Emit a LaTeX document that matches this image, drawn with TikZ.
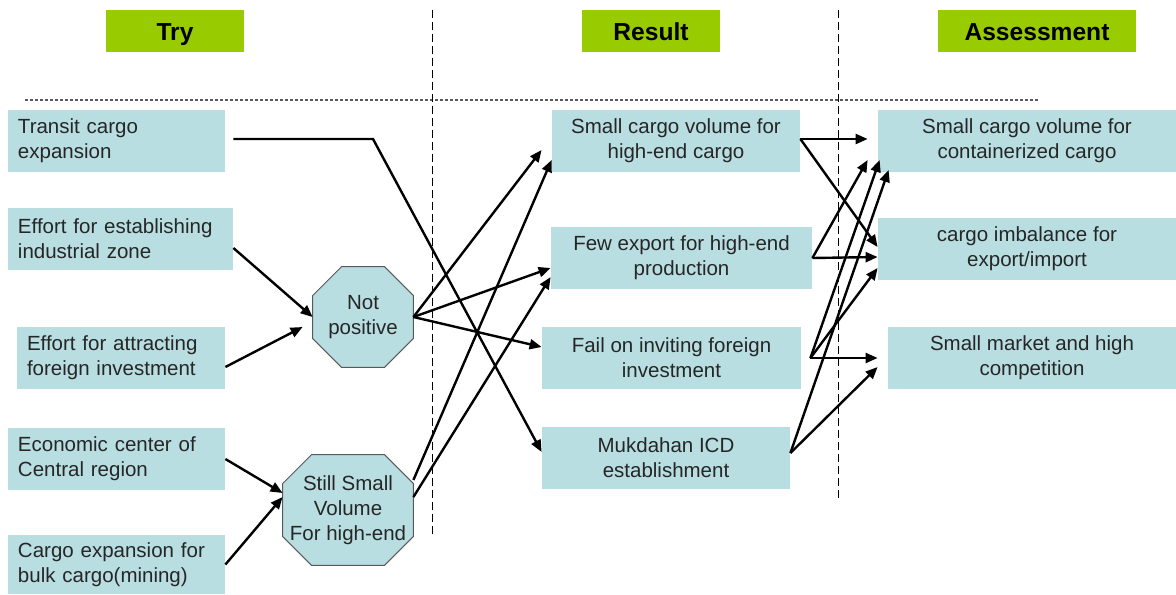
\documentclass[tikz,border=0pt]{standalone}
\usepackage{fontspec}
\setmainfont{Liberation Sans}
\usepackage{tikz}
\usepackage{xcolor}
\usetikzlibrary{arrows.meta, calc, backgrounds}

\definecolor{boxblue}{HTML}{B8DEE2}
\definecolor{headgreen}{HTML}{99CC00}

\begin{document}
\begin{tikzpicture}[
    x=0.5pt, y=-0.5pt,
    head/.style={rectangle, fill=headgreen, minimum height=21pt, text centered,
                 text height=10pt, text depth=1pt,
                 font=\fontsize{12.3}{14}\selectfont\bfseries},
    lbox/.style={rectangle, fill=boxblue, minimum height=31pt, inner xsep=5pt, align=left,
                 text=black!85, font=\fontsize{10.25}{12.5}\selectfont},
    cbox/.style={rectangle, fill=boxblue, minimum height=31pt, align=center,
                 text=black!85, font=\fontsize{10.25}{12.5}\selectfont},
    oct/.style={rectangle, inner sep=0pt, align=center,
                text=black!85, font=\fontsize{10.25}{12.5}\selectfont},
    octline/.style={fill=boxblue, draw=gray!70!black, line width=0.5pt},
    sep/.style={gray!70!black, dash pattern=on 1.5pt off 1pt, line width=0.6pt},
    vsep/.style={black, dash pattern=on 4pt off 2pt, line width=0.4pt},
    arr/.style={-{Triangle[length=6pt, width=5pt]}, line width=1.2pt}
]
\useasboundingbox (0,0) rectangle (1176,594);

%% ===== SEPARATORS =====
\draw[sep]  (25,100)  -- (1038,100);
\draw[vsep] (432,10)  -- (432,535);
\draw[vsep] (838,10)  -- (838,500);

%% ===== HEADERS =====
\node[head, minimum width=69pt] (htry) at (175,31)  {Try};
\node[head, minimum width=69pt] (hres) at (651,31)  {Result};
\node[head, minimum width=99pt] (hass) at (1037,31) {Assessment};

%% ===== TRY column =====
\node[lbox, text width=98.5pt]  (t1) at (116.5,141) {Transit cargo\\expansion};
\node[lbox, text width=102.5pt] (t2) at (120.5,239) {Effort for establishing\\industrial zone};
\node[lbox, text width=94pt]    (t3) at (121,358)   {Effort for attracting\\foreign investment};
\node[lbox, text width=98.5pt]  (t4) at (116.5,459) {Economic center of\\Central region};
\node[lbox, text width=98.5pt, minimum height=29.5pt] (t5) at (116.5,564.5) {Cargo expansion for\\bulk cargo(mining)};

%% Octagons (outline drawn behind the text)
\node[oct, minimum width=50pt, minimum height=50pt] (np) at (363,317) {Not\\positive};
\node[oct, minimum width=65pt, minimum height=55pt] (sv) at (348,510) {Still Small\\Volume\\For high-end};
\begin{scope}[on background layer]
  \foreach \o/\c in {np/14.5pt, sv/14.5pt}
    \draw[octline] ([xshift=\c]\o.north west) -- ([xshift=-\c]\o.north east)
      -- ([yshift=-\c]\o.north east) -- ([yshift=\c]\o.south east)
      -- ([xshift=-\c]\o.south east) -- ([xshift=\c]\o.south west)
      -- ([yshift=\c]\o.south west) -- ([yshift=-\c]\o.north west) -- cycle;
\end{scope}

%% ===== RESULT column =====
\node[cbox, minimum width=124pt]   (r1) at (676,141)   {Small cargo volume for\\high-end cargo};
\node[cbox, minimum width=130.5pt] (r2) at (681.5,258) {Few export for high-end\\production};
\node[cbox, minimum width=129.5pt] (r3) at (671.5,358) {Fail on inviting foreign\\investment};
\node[cbox, minimum width=124pt]   (r4) at (666,458)   {Mukdahan ICD\\establishment};

%% ===== ASSESSMENT column =====
\node[cbox, minimum width=149pt] (a1) at (1027,141) {Small cargo volume for\\containerized cargo};
\node[cbox, minimum width=149pt] (a2) at (1027,249) {cargo imbalance for\\export/import};
\node[cbox, minimum width=144pt] (a3) at (1032,358) {Small market and high\\competition};

%% ===== ARROWS: Try =====
\coordinate (tbend) at (373,139);
\draw[arr] ([xshift=4pt, yshift=1pt]t1.east) -- (tbend) -- ([yshift=3pt]r4.west);
\draw[arr] ([yshift=-4.5pt]t2.east) -- (np.west);
\draw[arr] ([yshift=-4.5pt]t3.east) -- ([shift={(-5pt,-5pt)}]np.west);
\draw[arr] (t4.east) -- ([yshift=8.5pt]sv.west);
\draw[arr] (t5.east) -- ([yshift=6.5pt]sv.west);

%% ===== ARROWS: octagons to Result =====
\draw[arr] (np.east) -- ([shift={(-5pt,-4.5pt)}]r1.west);
\draw[arr] (np.east) -- ([yshift=-5pt]r2.west);
\draw[arr] (np.east) -- ([yshift=5.5pt]r3.west);
\draw[arr] ([yshift=15pt]sv.east)  -- ([yshift=-9.5pt]r1.west);
\draw[arr] ([yshift=6.5pt]sv.east) -- ([yshift=-9.5pt]r2.west);

%% ===== ARROWS: Result to Assessment =====
\draw[arr] ([yshift=1pt]r1.east) -- ([shift={(-5pt,1pt)}]a1.west);
\draw[arr] ([yshift=1pt]r1.east) -- ([yshift=1pt]a2.west);
\draw[arr] (r2.east) -- ([shift={(-5pt,-9.5pt)}]a1.west);
\draw[arr] (r2.east) -- ([yshift=-4pt]a2.west);
\draw[arr] ([xshift=4.5pt]r3.east) -- ([shift={(1pt,-9.5pt)}]a1.west);
\draw[arr] ([xshift=4.5pt]r3.east) -- ([yshift=-9.5pt]a2.west);
\draw[arr] ([xshift=4.5pt]r3.east) -- ([xshift=-5pt]a3.west);
\draw[arr] ([yshift=2.5pt]r4.east) -- ([shift={(5.5pt,-14.5pt)}]a1.west);
\draw[arr] ([yshift=2.5pt]r4.east) -- ([shift={(-5pt,-4.5pt)}]a3.west);

\end{tikzpicture}
\end{document}
